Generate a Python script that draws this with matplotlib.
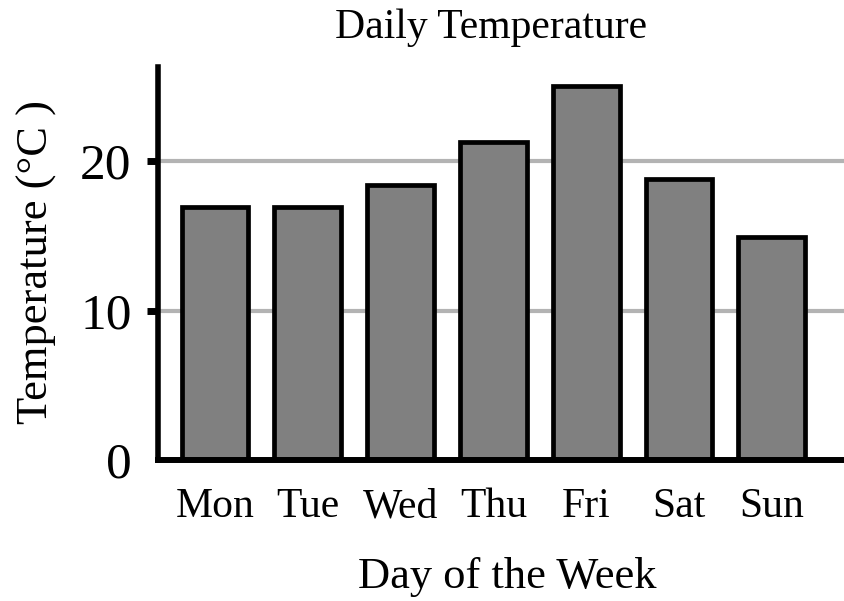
import numpy as np
import matplotlib
matplotlib.use('Agg')
import matplotlib.pyplot as plt

# data
days = ['Mon', 'Tue', 'Wed', 'Thu', 'Fri', 'Sat', 'Sun']
temps = [16.9, 16.9, 18.4, 21.3, 25.0, 18.8, 14.9]
yticks = [0, 10, 20]

plt.rcParams['font.family'] = ['Liberation Serif', 'DejaVu Serif']

fig = plt.figure(figsize=(8.44, 6.01), dpi=100)
ax = fig.add_axes([0.1872, 0.2346, 0.8128, 0.654])

x = np.arange(len(days))
ax.bar(x, temps, width=0.72, color='#808080', edgecolor='black', linewidth=3.4, zorder=3)

ax.set_xlim(-0.614, 6.777)
ax.set_ylim(0, 26.3)
ax.set_xticks(x)
ax.set_xticklabels(days, fontsize=30)
ax.set_yticks(yticks)
ax.set_yticklabels([str(t) for t in yticks], fontsize=37)

#grid and spines
ax.yaxis.grid(True, color='#b3b3b3', linewidth=3, zorder=0)
ax.set_axisbelow(True)
for side in ['top', 'right']:
    ax.spines[side].set_visible(False)
ax.spines['left'].set_linewidth(4)
ax.spines['bottom'].set_linewidth(4.3)
ax.spines['left'].set_zorder(4)
ax.spines['bottom'].set_zorder(4)

ax.tick_params(axis='x', length=0, pad=20)
ax.tick_params(axis='y', length=8, width=5, pad=11)
# no tick mark sticks out at zero
ax.yaxis.get_major_ticks()[0].tick1line.set_visible(False)

fig.text(0.5818, 0.9368, 'Daily Temperature', fontsize=30, ha='center', va='baseline')
fig.text(0.6007, 0.0216, 'Day of the Week', fontsize=32, ha='center', va='baseline')
fig.text(48 / 844, 1 - 262 / 601, 'Temperature (°C )', fontsize=32, rotation=90,
         rotation_mode='anchor', ha='center', va='baseline')

fig.savefig('out.png', dpi=100)
